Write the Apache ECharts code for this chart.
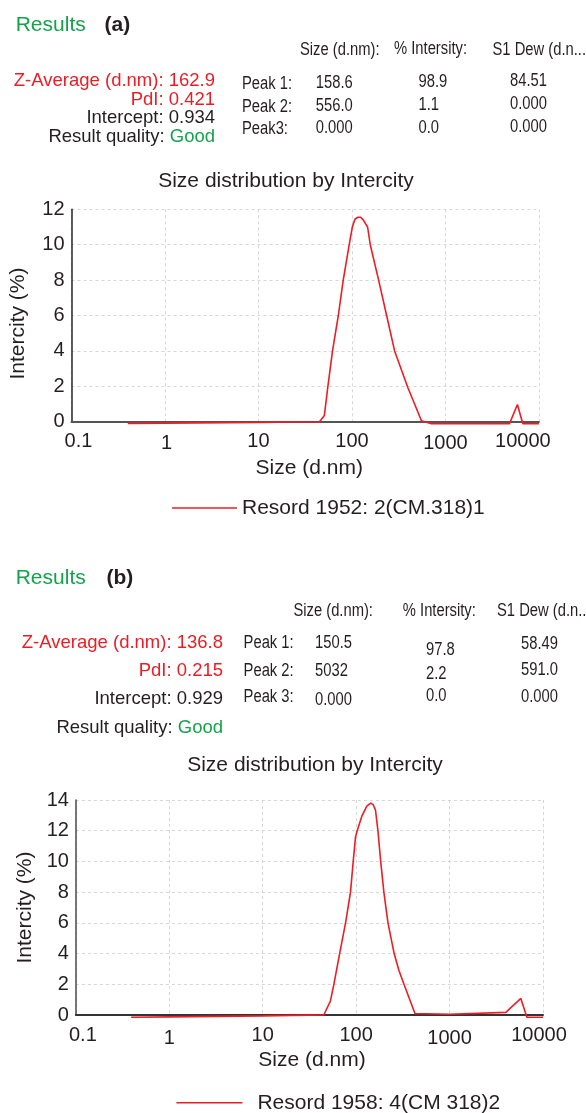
<!DOCTYPE html>
<html>
<head>
<meta charset="utf-8">
<script src="https://cdn.jsdelivr.net/npm/echarts@6/dist/echarts.min.js"></script>
<style>
html,body{margin:0;padding:0;background:#ffffff;}
#chart{width:586px;height:1113px;}
</style>
</head>
<body>
<div id="chart"></div>
<script>
// ---------- data ----------
const xTickLabels = ['0.1', '1', '10', '100', '1000', '10000'];
const seriesNames = ['Resord 1952: 2(CM.318)1', 'Resord 1958: 4(CM 318)2'];
const panelTags = ['(a)', '(b)'];
const chartTitle = 'Size distribution by Intercity';
const xAxisName = 'Size (d.nm)';
const yAxisName = 'Intercity (%)';

const sizeA = [0.4, 1, 10, 45, 50.7, 55, 62, 71.5, 80.7, 93.5, 101, 108, 116, 124, 132, 147, 157, 193, 235, 286, 398, 554, 708, 4840, 5890, 6730, 10000];
const intensityA = [-0.1, -0.08, -0.04, 0, 0.35, 1.9, 4.0, 6.0, 8.0, 10.0, 11.0, 11.45, 11.55, 11.55, 11.4, 11.0, 10.0, 8.0, 6.0, 4.0, 1.9, 0.05, -0.12, -0.12, 0.97, -0.12, -0.12];

const sizeB = [0.39, 1, 10, 30, 45, 53, 57.7, 67, 77, 87, 93, 98.5, 102.5, 116, 130, 143, 152, 161, 171, 183, 198, 219, 255, 287, 325, 426, 1000, 4000, 5790, 6720, 10000];
const intensityB = [-0.15, -0.12, -0.06, -0.01, 0, 0.9, 2, 4.1, 6, 8, 10, 11.6, 12, 13, 13.6, 13.8, 13.7, 13.35, 12, 10, 8, 6, 4, 2.9, 2, 0.1, 0.05, 0.17, 1.08, -0.15, -0.15];

const yMaxA = 12;
const yMaxB = 14;

const summaryLabels = ['Z-Average (d.nm): ', 'PdI: ', 'Intercept: ', 'Result quality: '];
const summaryA = ['162.9', '0.421', '0.934', 'Good'];
const summaryB = ['136.8', '0.215', '0.929', 'Good'];
const columnHeaders = ['Size (d.nm):', '% Intersity:', 'S1 Dew (d.n...'];
const peakLabelsA = ['Peak 1:', 'Peak 2:', 'Peak3:'];
const peakLabelsB = ['Peak 1:', 'Peak 2:', 'Peak 3:'];
const peakSizeA = ['158.6', '556.0', '0.000'];
const peakIntensityA = ['98.9', '1.1', '0.0'];
const peakDevA = ['84.51', '0.000', '0.000'];
const peakSizeB = ['150.5', '5032', '0.000'];
const peakIntensityB = ['97.8', '2.2', '0.0'];
const peakDevB = ['58.49', '591.0', '0.000'];

// ---------- styles ----------
const RED = '#ec1c24';
const LINE_RED = '#ee1d25';
const GREEN = '#13a44b';
const DARK = '#231f20';
const GRID_COLOR = '#d6d6d6';
const FAM = '"Liberation Sans", Arial, Helvetica, sans-serif';
const NARROW_SCALE = 0.82;

function T(x, y, text, font, fill, align, sx) {
  return {
    type: 'text', x: x, y: y, silent: true, scaleX: sx || 1,
    style: { text: text, font: font, fill: fill, align: align || 'left', verticalAlign: 'middle' }
  };
}

function header(cfg, summary, peakLabels, peakSize, peakInt, peakDev, tag) {
  const els = [];
  els.push(T(cfg.resX, cfg.resY, 'Results', '21px ' + FAM, GREEN));
  els.push(T(cfg.tagX, cfg.resY, tag, 'bold 21px ' + FAM, DARK));
  const nFont = '18px ' + FAM;
  cfg.colX.forEach((x, i) => els.push(T(x, cfg.colY[i], columnHeaders[i], nFont, DARK, 'left', NARROW_SCALE)));
  const sFont = '18.5px ' + FAM;
  els.push(T(cfg.sumX, cfg.sumY[0], summaryLabels[0] + summary[0], sFont, RED, 'right'));
  els.push(T(cfg.sumX, cfg.sumY[1], summaryLabels[1] + summary[1], sFont, RED, 'right'));
  els.push(T(cfg.sumX, cfg.sumY[2], summaryLabels[2] + summary[2], sFont, DARK, 'right'));
  els.push({
    type: 'text', x: cfg.sumX, y: cfg.sumY[3], silent: true,
    style: {
      text: '{d|' + summaryLabels[3] + '}{g|' + summary[3] + '}',
      font: sFont, align: 'right', verticalAlign: 'middle',
      rich: { d: { fill: DARK, font: sFont }, g: { fill: GREEN, font: sFont } }
    }
  });
  for (let i = 0; i < 3; i++) {
    els.push(T(cfg.pkX, cfg.pkY[i], peakLabels[i], nFont, DARK, 'left', NARROW_SCALE));
    els.push(T(cfg.szX, cfg.szY[i], peakSize[i], nFont, DARK, 'left', NARROW_SCALE));
    els.push(T(cfg.inX, cfg.inY[i], peakInt[i], nFont, DARK, 'left', NARROW_SCALE));
    els.push(T(cfg.dvX, cfg.dvY[i], peakDev[i], nFont, DARK, 'right', NARROW_SCALE));
  }
  return els;
}

const layoutA = {
  resX: 15.7, resY: 25.3, tagX: 104.6,
  colX: [300, 394, 492.5], colY: [50, 49, 50],
  sumX: 215, sumY: [80.7, 100.3, 118.3, 137],
  pkX: 242, pkY: [84, 107.5, 129.5],
  szX: 315.8, szY: [82.7, 106, 128.3],
  inX: 418.5, inY: [82, 105.5, 128.3],
  dvX: 547, dvY: [80.7, 104, 126.7]
};
const layoutB = {
  resX: 15.7, resY: 578, tagX: 106.5,
  colX: [293.4, 402.8, 497], colY: [611.3, 611.3, 611],
  sumX: 223, sumY: [643.3, 670.8, 699.2, 727.5],
  pkX: 243.6, pkY: [643.3, 670.8, 697],
  szX: 315, szY: [643, 670.8, 700],
  inX: 426, inY: [650, 673.7, 696.3],
  dvX: 558, dvY: [643.7, 670.3, 696.7]
};

function pairs(xs, ys) { return xs.map((x, i) => [x, ys[i]]); }

function xAxisCfg(gridIndex, rich, nameGap, namePadLeft, lineColor) {
  return {
    type: 'log', logBase: 10, gridIndex: gridIndex, min: 0.1, max: 10000,
    name: xAxisName, nameLocation: 'middle', nameGap: nameGap,
    nameTextStyle: { fontSize: 21, color: DARK, fontFamily: FAM, padding: [0, 0, 0, namePadLeft] },
    axisLine: { show: true, onZero: false, lineStyle: { color: lineColor, width: 2 } },
    axisTick: { show: false },
    axisLabel: {
      margin: 10, fontSize: 20, color: DARK, fontFamily: FAM,
      formatter: function (v) {
        const i = Math.round(Math.log10(v)) + 1;
        return '{t' + i + '|' + xTickLabels[i] + '}';
      },
      rich: rich
    },
    splitLine: { show: true, lineStyle: { color: GRID_COLOR, type: [3, 3], width: 1 } }
  };
}

function yAxisCfg(gridIndex, max, nameGap, namePadRight, lineColor) {
  return {
    type: 'value', gridIndex: gridIndex, min: 0, max: max, interval: 2,
    name: yAxisName, nameLocation: 'middle', nameRotate: 90, nameGap: nameGap,
    nameTextStyle: { fontSize: 21, color: DARK, fontFamily: FAM, padding: [0, namePadRight, 0, 0] },
    axisLine: { show: true, lineStyle: { color: lineColor, width: 1.6 } },
    axisTick: { show: false },
    axisLabel: { margin: 7, fontSize: 20, color: DARK, fontFamily: FAM },
    splitLine: { show: true, lineStyle: { color: GRID_COLOR, type: [3, 3], width: 1 } }
  };
}

const base = { fontSize: 20, color: DARK, fontFamily: FAM };
const richA = {
  t0: Object.assign({ padding: [0, 0, 0, 14] }, base),
  t1: Object.assign({ padding: [2, 0, 0, 3] }, base),
  t2: Object.assign({}, base),
  t3: Object.assign({}, base),
  t4: Object.assign({ padding: [2, 0, 0, 0] }, base),
  t5: Object.assign({ padding: [0, 32, 0, 0] }, base)
};
const richB = {
  t0: Object.assign({ padding: [0, 0, 0, 14] }, base),
  t1: Object.assign({ padding: [3, 0, 0, 0] }, base),
  t2: Object.assign({}, base),
  t3: Object.assign({}, base),
  t4: Object.assign({ padding: [3, 0, 0, 0] }, base),
  t5: Object.assign({ padding: [0, 8, 0, 0] }, base)
};

const chart = echarts.init(document.getElementById('chart'), null, { renderer: 'canvas' });

const option = {
  backgroundColor: '#ffffff',
  animation: false,
  title: [
    { text: chartTitle, left: 286, top: 181, textAlign: 'center', textVerticalAlign: 'middle',
      textStyle: { fontSize: 21, fontWeight: 'normal', color: DARK, fontFamily: FAM }, padding: 0 },
    { text: chartTitle, left: 315, top: 765, textAlign: 'center', textVerticalAlign: 'middle',
      textStyle: { fontSize: 21, fontWeight: 'normal', color: DARK, fontFamily: FAM }, padding: 0 }
  ],
  legend: [
    { data: [seriesNames[0]], left: 172, top: 497.5, padding: 0, icon: 'rect', itemWidth: 65, itemHeight: 1.6,
      itemStyle: { color: LINE_RED },
      textStyle: { fontSize: 21, color: DARK, fontFamily: FAM } },
    { data: [seriesNames[1]], left: 176.4, top: 1092.3, padding: 0, icon: 'rect', itemWidth: 66, itemHeight: 1.6,
      itemStyle: { color: LINE_RED },
      textStyle: { fontSize: 21, color: DARK, fontFamily: FAM, padding: [0, 0, 0, 10] } }
  ],
  grid: [
    { left: 71, right: 586 - 538.9, top: 209.3, height: 212.4 },
    { left: 75.9, right: 586 - 543, top: 800, height: 215 }
  ],
  xAxis: [
    xAxisCfg(0, richA, 36, 8, '#555555'),
    xAxisCfg(1, richB, 34.5, 5, '#333333')
  ],
  yAxis: [
    yAxisCfg(0, yMaxA, 42.5, 16, '#333333'),
    yAxisCfg(1, yMaxB, 39.5, 0, '#555555')
  ],
  series: [
    { name: seriesNames[0], type: 'line', xAxisIndex: 0, yAxisIndex: 0, data: pairs(sizeA, intensityA),
      symbol: 'none', showSymbol: false, clip: false, smooth: false, z: 5,
      lineStyle: { color: LINE_RED, width: 1.6 }, itemStyle: { color: LINE_RED } },
    { name: seriesNames[1], type: 'line', xAxisIndex: 1, yAxisIndex: 1, data: pairs(sizeB, intensityB),
      symbol: 'none', showSymbol: false, clip: false, smooth: false, z: 5,
      lineStyle: { color: LINE_RED, width: 1.6 }, itemStyle: { color: LINE_RED } }
  ],
  graphic: [].concat(
    header(layoutA, summaryA, peakLabelsA, peakSizeA, peakIntensityA, peakDevA, panelTags[0]),
    header(layoutB, summaryB, peakLabelsB, peakSizeB, peakIntensityB, peakDevB, panelTags[1])
  )
};

chart.setOption(option);
</script>
</body>
</html>
